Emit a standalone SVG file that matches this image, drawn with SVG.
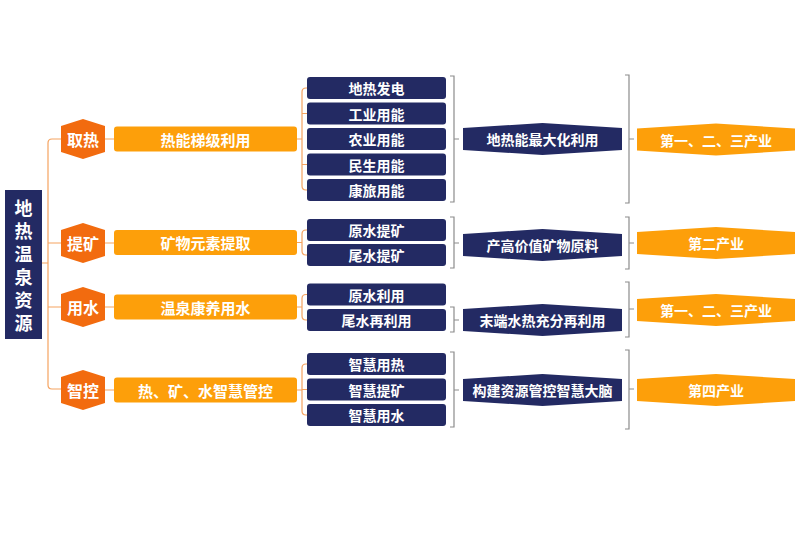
<svg xmlns="http://www.w3.org/2000/svg" width="800" height="533" viewBox="0 0 800 533">
<style>
text{font-family:"Noto Sans CJK SC","Noto Sans",sans-serif;font-weight:bold;fill:#fff;text-anchor:middle;dominant-baseline:central}
.vert{writing-mode:vertical-rl;text-anchor:start;dominant-baseline:auto;letter-spacing:5px;font-size:18px}
.hex{fill:#f26b0f}
.cat{fill:#fd9f0a}
.box{fill:#232a63}
.nav{fill:#232a63}
.ind{fill:#fd9f0a}
.oc{fill:none;stroke:#f5a360;stroke-width:1.2}
.gc{fill:none;stroke:#8c8c8c;stroke-width:1.2}
.t14{font-size:14px}
.t15{font-size:15px}
.t16{font-size:16px}
</style>
<defs>
<polygon id="hexshape" points="0,-20 22,-13 22,13 0,20 -22,13 -22,-13"/>
<polygon id="navarrow" points="-79.5,-11 0,-16 79.5,-11 79.5,11 0,16 -79.5,11"/>
<polygon id="indarrow" points="-79,-11 0,-16 79,-11 79,11 0,16 -79,11"/>
</defs>
<rect width="800" height="533" fill="#fff"/>

<g id="connectors">
<path class="oc" d="M42,263 H48 M61,139 H52 Q48,139 48,143 V385 Q48,389 52,389 H61 M48,243 H61 M48,307 H61"/>
<path class="oc" d="M105,139 H114 M105,243 H114 M105,307 H114 M105,390 H114"/>
<path class="oc" d="M297,139 H302 M307,88 H306 Q302,88 302,92 V186 Q302,190 306,190 H307 M302,113.5 H307 M302,164.5 H307"/>
<path class="oc" d="M297,242.5 H302 M307,230 H306 Q302,230 302,234 V251 Q302,255 306,255 H307"/>
<path class="oc" d="M297,307 H302 M307,294.5 H306 Q302,294.5 302,298.5 V316 Q302,320 306,320 H307"/>
<path class="oc" d="M297,390 H302 M307,364 H306 Q302,364 302,368 V411 Q302,415 306,415 H307 M302,389.5 H307"/>
<path class="gc" d="M450,76 H454 V202 H450 M454,139 H459"/>
<path class="gc" d="M450,217 H454 V268 H450 M454,243 H459"/>
<path class="gc" d="M450,307 H454 V332 H450 M454,320 H459"/>
<path class="gc" d="M450,352 H454 V427 H450 M454,390 H459"/>
<path class="gc" d="M625,75 H629 V203 H625 M629,139 H634"/>
<path class="gc" d="M625,217 H629 V269 H625 M629,243 H634"/>
<path class="gc" d="M625,282 H629 V337 H625 M629,309 H634"/>
<path class="gc" d="M625,350 H629 V429 H625 M629,389 H634"/>
</g>

<g id="root">
<rect x="5" y="190" width="37" height="149" fill="#232a63"/>
<text class="vert" x="23.5" y="199">地热温泉资源</text>
</g>

<g id="hex-quire"><use href="#hexshape" class="hex" x="83" y="139"/><text class="t16" x="83" y="139">取热</text></g>
<g id="hex-tikuang"><use href="#hexshape" class="hex" x="83" y="243"/><text class="t16" x="83" y="243">提矿</text></g>
<g id="hex-yongshui"><use href="#hexshape" class="hex" x="83" y="307"/><text class="t16" x="83" y="307">用水</text></g>
<g id="hex-zhikong"><use href="#hexshape" class="hex" x="83" y="390"/><text class="t16" x="83" y="390">智控</text></g>

<g id="cat1"><rect class="cat" x="114" y="126.5" width="183" height="25" rx="3"/><text class="t15" x="205.5" y="139">热能梯级利用</text></g>
<g id="cat2"><rect class="cat" x="114" y="230" width="183" height="25" rx="3"/><text class="t15" x="205.5" y="242.5">矿物元素提取</text></g>
<g id="cat3"><rect class="cat" x="114" y="294.5" width="183" height="25" rx="3"/><text class="t15" x="205.5" y="307">温泉康养用水</text></g>
<g id="cat4"><rect class="cat" x="114" y="377.5" width="183" height="25" rx="3"/><text class="t15" x="205.5" y="390">热、矿、水智慧管控</text></g>

<g id="b1"><rect class="box" x="307" y="77" width="139" height="22" rx="3"/><text class="t14" x="376.5" y="88">地热发电</text></g>
<g id="b2"><rect class="box" x="307" y="102.5" width="139" height="22" rx="3"/><text class="t14" x="376.5" y="113.5">工业用能</text></g>
<g id="b3"><rect class="box" x="307" y="128" width="139" height="22" rx="3"/><text class="t14" x="376.5" y="139">农业用能</text></g>
<g id="b4"><rect class="box" x="307" y="153.5" width="139" height="22" rx="3"/><text class="t14" x="376.5" y="164.5">民生用能</text></g>
<g id="b5"><rect class="box" x="307" y="179" width="139" height="22" rx="3"/><text class="t14" x="376.5" y="190">康旅用能</text></g>
<g id="b6"><rect class="box" x="307" y="219" width="139" height="22" rx="3"/><text class="t14" x="376.5" y="230">原水提矿</text></g>
<g id="b7"><rect class="box" x="307" y="244" width="139" height="22" rx="3"/><text class="t14" x="376.5" y="255">尾水提矿</text></g>
<g id="b8"><rect class="box" x="307" y="283.5" width="139" height="22" rx="3"/><text class="t14" x="376.5" y="294.5">原水利用</text></g>
<g id="b9"><rect class="box" x="307" y="309" width="139" height="22" rx="3"/><text class="t14" x="376.5" y="320">尾水再利用</text></g>
<g id="b10"><rect class="box" x="307" y="353" width="139" height="22" rx="3"/><text class="t14" x="376.5" y="364">智慧用热</text></g>
<g id="b11"><rect class="box" x="307" y="378.5" width="139" height="22" rx="3"/><text class="t14" x="376.5" y="389.5">智慧提矿</text></g>
<g id="b12"><rect class="box" x="307" y="404" width="139" height="22" rx="3"/><text class="t14" x="376.5" y="415">智慧用水</text></g>

<g id="goal1"><use href="#navarrow" class="nav" x="542.5" y="139"/><text class="t14" x="542.5" y="139">地热能最大化利用</text></g>
<g id="goal2"><use href="#navarrow" class="nav" x="542.5" y="245"/><text class="t14" x="542.5" y="245">产高价值矿物原料</text></g>
<g id="goal3"><use href="#navarrow" class="nav" x="542.5" y="320"/><text class="t14" x="542.5" y="320">末端水热充分再利用</text></g>
<g id="goal4"><use href="#navarrow" class="nav" x="542.5" y="390"/><text class="t14" x="542.5" y="390">构建资源管控智慧大脑</text></g>

<g id="ind1"><use href="#indarrow" class="ind" x="716" y="139.5"/><text class="t14" x="716" y="139.5">第一、二、三产业</text></g>
<g id="ind2"><use href="#indarrow" class="ind" x="716" y="243"/><text class="t14" x="716" y="243">第二产业</text></g>
<g id="ind3"><use href="#indarrow" class="ind" x="716" y="310"/><text class="t14" x="716" y="310">第一、二、三产业</text></g>
<g id="ind4"><use href="#indarrow" class="ind" x="716" y="390"/><text class="t14" x="716" y="390">第四产业</text></g>
</svg>
